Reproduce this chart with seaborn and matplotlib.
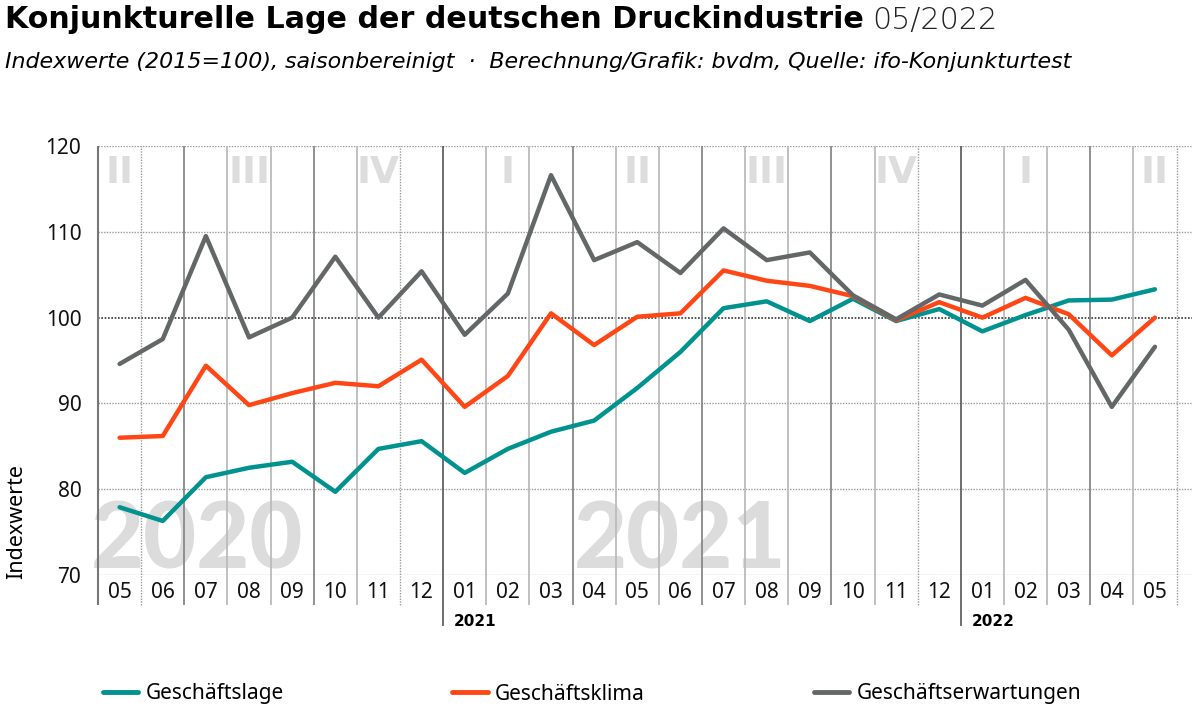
import matplotlib
matplotlib.use('Agg')
import matplotlib.pyplot as plt
import pandas as pd
import seaborn as sns
from matplotlib.lines import Line2D


monate = ['05', '06', '07', '08', '09', '10', '11', '12',
          '01', '02', '03', '04', '05', '06', '07', '08', '09', '10', '11', '12',
          '01', '02', '03', '04', '05']

lage = [77.9, 76.3, 81.4, 82.5, 83.2, 79.7, 84.7, 85.6,
        81.9, 84.7, 86.7, 88.0, 91.8, 96.0, 101.1, 101.9, 99.6, 102.2, 99.6, 101.0,
        98.4, 100.3, 102.0, 102.1, 103.3]
klima = [86.0, 86.2, 94.4, 89.8, 91.2, 92.4, 92.0, 95.1,
         89.6, 93.2, 100.5, 96.8, 100.1, 100.5, 105.5, 104.3, 103.7, 102.5, 99.7, 101.8,
         100.0, 102.3, 100.4, 95.6, 100.0]
erwartungen = [94.6, 97.5, 109.5, 97.7, 100.0, 107.1, 100.0, 105.4,
               98.0, 102.8, 116.6, 106.7, 108.8, 105.2, 110.4, 106.7, 107.6, 102.6, 99.8, 102.7,
               101.4, 104.4, 98.6, 89.6, 96.6]

quartale = ['II', 'III', 'IV', 'I', 'II', 'III', 'IV', 'I', 'II']
jahre_bg = ['2020', '2021']
jahre_achse = ['2021', '2022']

serien = ['Geschäftslage', 'Geschäftsklima', 'Geschäftserwartungen']
farben = ['#00928f', '#ff4614', '#636768']

df = pd.DataFrame({
    'idx': list(range(len(monate))) * 3,
    'wert': lage + klima + erwartungen,
    'serie': [s for s in serien for _ in monate],
})

sns.set_style('white')
plt.rcParams['font.family'] = ['Noto Sans', 'DejaVu Sans']
plt.rcParams['text.color'] = '#000000'

fig = plt.figure(figsize=(12, 7.12), dpi=100)
ax = fig.add_axes([0.0817, 0.1924, 0.9113, 0.6025])

ymin, ymax = 70, 120
unten = 66.5

# hintergrund: jahreszahlen und quartale
for pos, jahr in zip([1.8, 13.0], jahre_bg):
    ax.text(pos, 70.8, jahr, fontsize=66, fontweight='black', color='#dcdcdc',
            ha='center', va='baseline', family='Lato', zorder=0)
for k, q in enumerate(quartale):
    ax.text(k * 3, 118.9, q, fontsize=27, fontweight='black', color='#dddddd',
            ha='center', va='top', family='DejaVu Sans', zorder=0)

# gitter waagerecht
for y in [70, 80, 90, 110, 120]:
    ax.axhline(y, color='#9a9a9a', lw=1, ls=(0, (1, 1)), zorder=1)
ax.axhline(100, color='#333333', lw=1.2, ls=(0, (1, 1)), zorder=1)

# gitter senkrecht
for i in range(len(monate)):
    b = i + 0.5
    if b in (7.5, 19.5):
        ax.vlines(b, 64.0, ymax, color='#555555', lw=1.2, clip_on=False, zorder=1)
    elif b in (1.5, 4.5, 10.5, 13.5, 16.5, 22.5):
        ax.vlines(b, unten, ymax, color='#888888', lw=1.3, clip_on=False, zorder=1)
    elif b in (0.5, 6.5, 18.5, 24.5):
        ax.vlines(b, unten, ymax, color='#999999', lw=1, ls=(0, (1, 1)), clip_on=False, zorder=1)
    else:
        ax.vlines(b, unten, ymax, color='#bbbbbb', lw=1.3, clip_on=False, zorder=1)
ax.vlines(-0.5, unten, ymax, color='#777777', lw=1.5, clip_on=False, zorder=1)

sns.lineplot(data=df, x='idx', y='wert', hue='serie', palette=farben,
             linewidth=3.2, ax=ax, legend=False, zorder=3)

ax.set_xlim(-0.5, 24.85)
ax.set_ylim(ymin, ymax)
ax.set_xticks(range(len(monate)), labels=monate)
ax.set_yticks([70, 80, 90, 100, 110, 120])
ax.tick_params(axis='both', length=0, labelsize=15, colors='#111111')
ax.tick_params(axis='x', pad=5)
ax.tick_params(axis='y', pad=12)
ax.set_xlabel('')
ax.set_ylabel('')
for s in ax.spines.values():
    s.set_visible(False)

for pos, jahr in zip([7.5, 19.5], jahre_achse):
    ax.text(pos + 0.25, 64.6, jahr, fontsize=11, fontweight='bold',
            family='DejaVu Sans', ha='left', va='center')

fig.text(17 / 1200, 1 - 522 / 712, 'Indexwerte', rotation=90, fontsize=15.5,
         ha='center', va='center')

# titel
t = fig.text(5 / 1200, 1 - 20 / 712, 'Konjunkturelle Lage der deutschen Druckindustrie',
             fontsize=21.7, fontweight='bold', family='DejaVu Sans', ha='left', va='center')
fig.canvas.draw()
bb = t.get_window_extent()
fig.text((bb.x1 + 8) / 1200, 1 - 20 / 712, '05/2022', fontsize=21.7, fontweight='light',
         family='DejaVu Sans', color='#222222', ha='left', va='center')
fig.text(5 / 1200, 1 - 62 / 712,
         'Indexwerte (2015=100), saisonbereinigt  ·  Berechnung/Grafik: bvdm, Quelle: ifo-Konjunkturtest',
         fontsize=15.9, style='italic', family='DejaVu Sans', ha='left', va='center')

handles = [Line2D([], [], color=c, lw=3.5) for c in farben]
fig.legend(handles, serien, loc='center left', bbox_to_anchor=(84 / 1200, 1 - 694 / 712),
           ncol=3, frameon=False, fontsize=15, handlelength=1.7,
           columnspacing=8.1, handletextpad=0.35)

fig.savefig('out.png', dpi=100)
